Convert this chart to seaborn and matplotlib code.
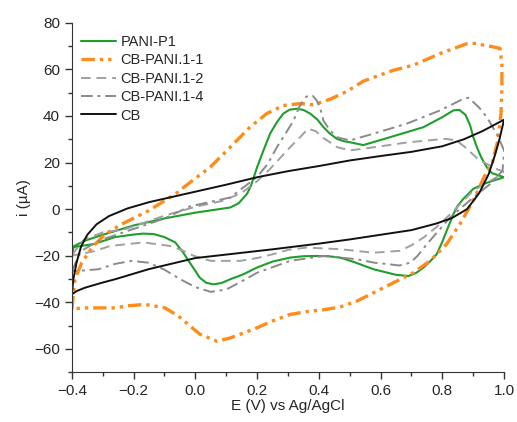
import numpy as np
import pandas as pd
import seaborn as sns
import matplotlib.pyplot as plt
from matplotlib.ticker import MultipleLocator

# cyclic voltammograms: forward (anodic) scan then reverse (cathodic) scan
pani_fwd_E = [-0.4, -0.395, -0.357, -0.3, -0.2, -0.1, 0.0, 0.113, 0.14, 0.167, 0.18, 0.2, 0.22, 0.242,
              0.265, 0.285, 0.305, 0.328, 0.35, 0.372, 0.395, 0.415, 0.435, 0.458, 0.48, 0.501, 0.544,
              0.631, 0.739, 0.8, 0.836, 0.855, 0.875, 0.89, 0.9, 0.912, 0.925, 0.944, 0.96, 1.0]
pani_fwd_i = [-21, -16, -13.5, -11, -7, -4, -1.5, 0.7, 2.5, 6.5, 10, 18, 25, 32.4,
              37.5, 41, 42.7, 43.1, 42.6, 41, 38.5, 35.2, 32.5, 30.2, 29.2, 28.7, 27.5,
              30.9, 35.2, 39.5, 42.4, 42.6, 40.5, 36, 31, 26.6, 22.5, 18, 15.5, 13.7]
pani_rev_E = [1.0, 0.96, 0.933, 0.9, 0.868, 0.85, 0.836, 0.814, 0.8, 0.782, 0.76, 0.739, 0.715, 0.69,
              0.65, 0.577, 0.52, 0.469, 0.43, 0.393, 0.35, 0.307, 0.25, 0.199, 0.155, 0.113, 0.085,
              0.059, 0.035, 0.014, 0.0, -0.022, -0.04, -0.065, -0.1, -0.135, -0.17, -0.206, -0.26,
              -0.33, -0.36, -0.4]
pani_rev_i = [13.7, 12, 10.8, 8.7, 4.4, 1.5, -2.1, -9.3, -14, -19.3, -22.5, -25.1, -27.4, -28.7,
              -28.2, -25.8, -23, -20.8, -20.2, -20.1, -20.2, -20.8, -22.5, -25.1, -28, -30.1, -31.7,
              -32.3, -31.6, -29.4, -26.5, -22.2, -18.5, -14.3, -12, -10.7, -10.5, -11, -12,
              -15, -15.6, -16.5]

cb11_fwd_E = [-0.4, -0.39, -0.368, -0.335, -0.292, -0.238, -0.152, -0.065, -0.017, 0.048, 0.113, 0.177,
              0.231, 0.285, 0.339, 0.382, 0.437, 0.49, 0.545, 0.641, 0.706, 0.793, 0.879, 0.91, 0.933,
              0.96, 0.987]
cb11_fwd_i = [-43, -30, -23, -16.5, -10.7, -6.4, -0.7, 6.5, 11.5, 18, 26.6, 35.2,
              41, 44.5, 45.3, 44.8, 47.2, 50.5, 55, 59.6, 61.8, 66.8, 71, 71.2, 70.4,
              69.8, 69]
cb11_rev_E = [0.987, 0.993, 0.993, 0.99, 0.98, 0.962, 0.935, 0.9, 0.857, 0.814, 0.76, 0.706, 0.631, 0.523,
              0.469, 0.415, 0.36, 0.307, 0.25, 0.199, 0.113, 0.07, 0.016, -0.017, -0.055, -0.098, -0.163,
              -0.22, -0.26, -0.368, -0.4]
cb11_rev_i = [69, 62, 52, 41, 29.5, 20, 13.7, 3.6, -6.4, -15, -22.2, -27.3, -32.3, -39.5,
              -42, -43.2, -44, -45.2, -48, -51, -55.3, -56.7, -53.8, -50.2, -45.9, -42.4, -40.9,
              -41.5, -42.4, -42.4, -43]

cb12_fwd_E = [-0.4, -0.38, -0.36, -0.3, -0.227, -0.1, 0.0, 0.09, 0.15, 0.2, 0.24, 0.275, 0.31, 0.34,
              0.365, 0.39, 0.415, 0.46, 0.5, 0.58, 0.69, 0.81, 0.845, 0.87, 0.92, 0.98, 1.0]
cb12_fwd_i = [-20, -16, -13, -10, -8.6, -2.8, 1, 3.6, 7, 12, 17, 22, 27, 31,
              34.5, 33.5, 30.5, 26.6, 25.2, 26.6, 28.7, 30.2, 29.5, 27, 21, 17, 16]
cb12_rev_E = [1.0, 0.976, 0.94, 0.9, 0.847, 0.793, 0.739, 0.7, 0.663, 0.577, 0.469, 0.36, 0.3, 0.253,
              0.2, 0.145, 0.05, -0.006, -0.04, -0.082, -0.168, -0.276, -0.326, -0.4]
cb12_rev_i = [16, 13.7, 11, 7.9, 0.7, -6.4, -12.2, -15.5, -17.9, -18.7, -17.2, -16.5, -17.5, -19.3,
              -21, -22.2, -22.2, -20, -17.8, -15.8, -14.3, -15.8, -18, -20]

cb14_fwd_E = [-0.4, -0.37, -0.314, -0.2, -0.1, -0.017, 0.113, 0.199, 0.235, 0.264, 0.29, 0.318, 0.335,
              0.35, 0.36, 0.372, 0.38, 0.393, 0.405, 0.415, 0.435, 0.458, 0.501, 0.577, 0.685, 0.793,
              0.84, 0.868, 0.885, 0.9, 0.92, 0.944, 0.976, 1.0]
cb14_fwd_i = [-26.5, -18, -13.6, -8.5, -4, 1.2, 5, 13.7, 19.5, 26.6, 32, 38, 43.5,
              46.7, 48.3, 48.9, 48.7, 46.7, 43, 38, 34, 30.9, 29.5, 32.4, 36.7, 42.4,
              45.5, 47.4, 47.8, 46, 43.5, 39.5, 32.4, 25.2]
cb14_rev_E = [1.0, 0.995, 0.955, 0.9, 0.825, 0.75, 0.72, 0.696, 0.66, 0.631, 0.58, 0.523, 0.415, 0.307,
              0.2, 0.15, 0.1, 0.05, 0.0, -0.05, -0.1, -0.152, -0.206, -0.26, -0.314, -0.379, -0.4]
cb14_rev_i = [25.2, 16.5, 10.8, 5, -3.6, -15, -20, -23, -24.2, -23.7, -23, -21.5, -20.1, -22.2,
              -27.3, -31, -34.5, -35.5, -33.5, -30, -26, -23, -22.2, -23.5, -25.8, -26.5, -26.5]

cb_fwd_E = [-0.4, -0.395, -0.385, -0.37, -0.35, -0.32, -0.28, -0.22, -0.15, -0.05, 0.0, 0.1, 0.2,
            0.3, 0.4, 0.5, 0.6, 0.7, 0.8, 0.87, 0.93, 1.0]
cb_fwd_i = [-36.6, -30, -23, -16, -11, -6.5, -3, 0.3, 3, 6, 7.5, 10.5, 13.7,
            16.3, 18.5, 20.9, 22.8, 24.6, 27, 30, 33.5, 38.4]
cb_rev_E = [1.0, 0.985, 0.97, 0.95, 0.92, 0.88, 0.83, 0.78, 0.7, 0.6, 0.5, 0.4, 0.253, 0.1, 0.0,
            -0.152, -0.26, -0.3, -0.357, -0.385, -0.4]
cb_rev_i = [38.4, 30, 23, 15, 7, 0, -3.9, -6.2, -9, -11, -13, -14.8, -17.2, -19.5, -21,
            -25.8, -30.1, -31.5, -33.7, -35.2, -36.6]

names = ['PANI-P1', 'CB-PANI.1-1', 'CB-PANI.1-2', 'CB-PANI.1-4', 'CB']
curves = [(pani_fwd_E + pani_rev_E, pani_fwd_i + pani_rev_i),
          (cb11_fwd_E + cb11_rev_E, cb11_fwd_i + cb11_rev_i),
          (cb12_fwd_E + cb12_rev_E, cb12_fwd_i + cb12_rev_i),
          (cb14_fwd_E + cb14_rev_E, cb14_fwd_i + cb14_rev_i),
          (cb_fwd_E + cb_rev_E, cb_fwd_i + cb_rev_i)]
colors = ['#1f9e2c', '#ff8c1a', '#a0a0a0', '#8a8a8a', '#111111']
dashes = [(None, None), (4, 1.5, 1, 1.5, 1, 1.5), (5, 3), (6, 2.5, 1.5, 2.5), (None, None)]
widths = [1.5, 2.4, 1.4, 1.4, 1.4]

sns.set_style('ticks')
plt.rcParams['font.family'] = ['Liberation Sans', 'DejaVu Sans']

fig = plt.figure(figsize=(5.17, 4.22), dpi=100)
ax = fig.add_axes([0.139, 0.118, 0.836, 0.828])

for name, (E, i), c, d, w in zip(names, curves, colors, dashes, widths):
    df = pd.DataFrame({'E': E, 'i': i})
    sns.lineplot(data=df, x='E', y='i', sort=False, estimator=None, color=c,
                 linewidth=w, label=name, ax=ax)
    ax.lines[-1].set_solid_joinstyle('round')
    if d[0] is not None:
        ax.lines[-1].set_dashes(d)

ax.set_xlim(-0.4, 1.0)
ax.set_ylim(-70, 80)
ax.xaxis.set_major_locator(MultipleLocator(0.2))
ax.xaxis.set_minor_locator(MultipleLocator(0.1))
ax.yaxis.set_major_locator(MultipleLocator(20))
ax.yaxis.set_minor_locator(MultipleLocator(10))
ax.tick_params(which='major', direction='out', length=5, width=1, labelsize=11, color='#333333')
ax.tick_params(which='minor', direction='out', length=3, width=1, color='#333333')
sns.despine(ax=ax)
for s in ['left', 'bottom']:
    ax.spines[s].set_color('#333333')
ax.set_xlabel('E (V) vs Ag/AgCl', fontsize=11, labelpad=1)
ax.set_ylabel('i (\u00b5A)', fontsize=11, labelpad=2)

leg = ax.legend(loc='upper left', frameon=False, fontsize=10.5, handlelength=2.4,
                handletextpad=0.35, labelspacing=0.3, borderaxespad=0.2,
                bbox_to_anchor=(0.0, 0.99))

fig.savefig('out.png', dpi=100)
